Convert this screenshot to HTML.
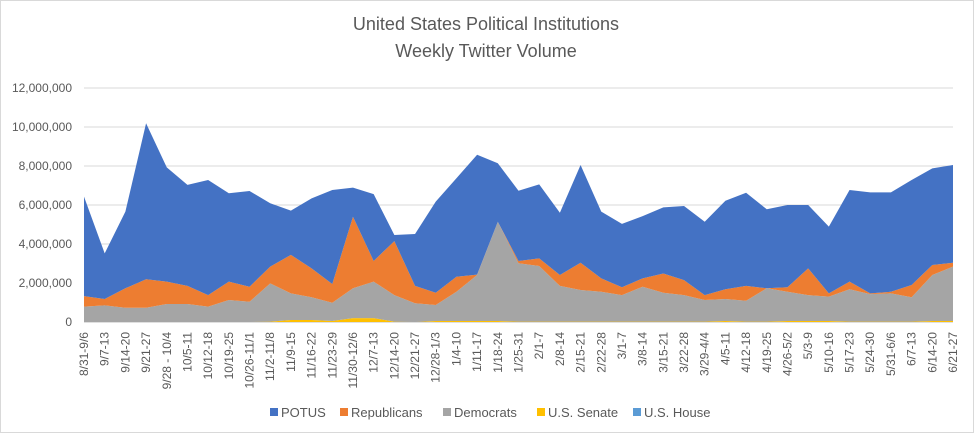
<!DOCTYPE html>
<html><head><meta charset="utf-8"><style>
body{margin:0;background:#fff;}
svg{display:block;font-family:"Liberation Sans",sans-serif;}
</style></head><body>
<svg id="chart" width="974" height="433" viewBox="0 0 974 433" xmlns="http://www.w3.org/2000/svg">
<rect x="0.5" y="0.5" width="973" height="432" fill="#fff" stroke="#d9d9d9"/>
<text x="486" y="30" text-anchor="middle" font-size="18" fill="#595959">United States Political Institutions</text>
<text x="486" y="57" text-anchor="middle" font-size="18" fill="#595959">Weekly Twitter Volume</text>
<g id="grid"></g>
<g id="areas"></g>
<g id="yaxis"></g>
<g id="xaxis"></g>
<g id="legend"></g>
</svg>
<script>
const categories = ["8/31-9/6","9/7-13","9/14-20","9/21-27","9/28 - 10/4","10/5-11","10/12-18","10/19-25","10/26-11/1","11/2-11/8","11/9-15","11/16-22","11/23-29","11/30-12/6","12/7-13","12/14-20","12/21-27","12/28-1/3","1/4-10","1/11-17","1/18-24","1/25-31","2/1-7","2/8-14","2/15-21","2/22-28","3/1-7","3/8-14","3/15-21","3/22-28","3/29-4/4","4/5-11","4/12-18","4/19-25","4/26-5/2","5/3-9","5/10-16","5/17-23","5/24-30","5/31-6/6","6/7-13","6/14-20","6/21-27"];
const senate = [0,0,0,0,0,0,0,0,0,0.02,0.1,0.1,0.05,0.2,0.2,0.02,0,0.05,0.05,0.05,0.05,0.02,0.02,0.02,0.02,0.02,0.02,0.02,0.02,0.02,0.02,0.05,0.02,0.02,0.05,0.05,0.05,0.02,0.02,0.02,0.02,0.05,0.05];
const house = [0,0,0,0,0,0,0,0,0,0,0,0,0,0,0,0,0,0,0,0,0,0,0,0,0,0,0,0,0,0,0,0,0,0,0,0,0,0,0,0,0,0,0];
const democrats = [0.79,0.85,0.73,0.73,0.92,0.92,0.79,1.13,1.04,1.96,1.37,1.17,0.94,1.53,1.87,1.36,0.96,0.82,1.5,2.36,5.09,2.99,2.85,1.83,1.62,1.53,1.36,1.79,1.48,1.36,1.11,1.13,1.07,1.71,1.5,1.33,1.25,1.66,1.41,1.45,1.25,2.36,2.79];
const republicans = [0.54,0.33,1.0,1.46,1.15,0.93,0.59,0.94,0.77,0.86,1.97,1.48,0.96,3.67,1.06,2.77,0.89,0.63,0.77,0.02,0,0.12,0.39,0.56,1.4,0.69,0.4,0.43,0.99,0.77,0.25,0.5,0.76,0,0.23,1.37,0.17,0.39,0.04,0.08,0.63,0.51,0.2];
const potus = [5.1,2.34,3.93,8.0,5.86,5.18,5.9,4.53,4.91,3.25,2.27,3.59,4.82,1.49,3.43,0.31,2.66,4.67,5.05,6.15,3.0,3.6,3.8,3.19,5.01,3.42,3.25,3.19,3.39,3.8,3.76,4.54,4.78,4.05,4.22,3.25,3.42,4.7,5.18,5.1,5.38,4.96,5.01];
const yTicks = [0,2,4,6,8,10,12];
const yTickLabels = ["0","2,000,000","4,000,000","6,000,000","8,000,000","10,000,000","12,000,000"];

const NS="http://www.w3.org/2000/svg";
const X0=84,X1=953,Y0=322,Y1=88,YMAX=12;
function xs(i){return X0+(X1-X0)*i/(categories.length-1);}
function ys(v){return Y0-(Y0-Y1)*v/YMAX;}
function mk(tag,attrs,parent){const e=document.createElementNS(NS,tag);for(const k in attrs)e.setAttribute(k,attrs[k]);parent.appendChild(e);return e;}

const grid=document.getElementById('grid');
yTicks.forEach((t,i)=>{
  const l=mk('line',{x1:X0,x2:X1,y1:ys(t),y2:ys(t),stroke:i===0?'#bfbfbf':'#d9d9d9','stroke-width':1},grid);
  
  
});
const yax=document.getElementById('yaxis');
yTicks.forEach((t,i)=>{
  const tx=mk('text',{x:72,y:ys(t)+4,'text-anchor':'end','font-size':12,fill:'#595959'},yax);
  tx.textContent=yTickLabels[i];
  
  
});

const series=[
  {name:'us-senate',vals:senate,color:'#ffc000'},
  {name:'us-house',vals:house,color:'#5b9bd5'},
  {name:'democrats',vals:democrats,color:'#a5a5a5'},
  {name:'republicans',vals:republicans,color:'#ed7d31'},
  {name:'potus',vals:potus,color:'#4472c4'}
];
const areas=document.getElementById('areas');
let base=categories.map(()=>0);
series.forEach(s=>{
  const top=base.map((b,i)=>b+s.vals[i]);
  let d='M'+xs(0)+','+ys(top[0]);
  for(let i=1;i<top.length;i++)d+=' L'+xs(i)+','+ys(top[i]);
  for(let i=top.length-1;i>=0;i--)d+=' L'+xs(i)+','+ys(base[i]);
  d+=' Z';
  const p=mk('path',{d:d,fill:s.color},areas);
  
  
  base=top;
});

const xax=document.getElementById('xaxis');
categories.forEach((c,i)=>{
  const x=xs(i)+4;
  const tx=mk('text',{x:x,y:332,'text-anchor':'end','font-size':12,fill:'#595959',transform:'rotate(-90 '+x+' 332)'},xax);
  tx.textContent=c;
  
  
});

const legendItems=[
  {label:'POTUS',color:'#4472c4',x:270},
  {label:'Republicans',color:'#ed7d31',x:340},
  {label:'Democrats',color:'#a5a5a5',x:443},
  {label:'U.S. Senate',color:'#ffc000',x:537},
  {label:'U.S. House',color:'#5b9bd5',x:633}
];
const lg=document.getElementById('legend');
legendItems.forEach(it=>{
  const g=mk('g',{},lg);
  
  
  mk('rect',{x:it.x,y:408,width:8,height:8,fill:it.color},g);
  const t=mk('text',{x:it.x+11,y:417,'font-size':13,fill:'#595959'},g);
  t.textContent=it.label;
});
</script>
</body></html>
